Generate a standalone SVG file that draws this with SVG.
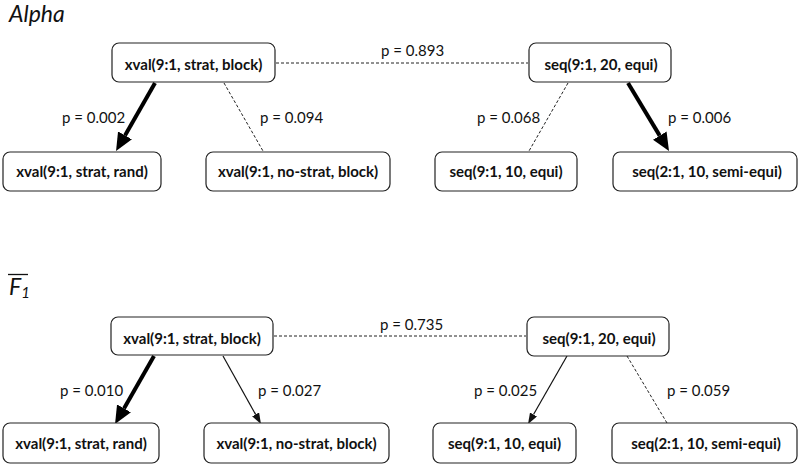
<svg xmlns="http://www.w3.org/2000/svg" width="800" height="467" viewBox="0 0 800 467">
<style>
.box{fill:#fff;stroke:#222;stroke-width:1.2}
.nt{font-family:Lato,"Liberation Sans",Arial,sans-serif;font-weight:bold;font-size:15px;fill:#111;text-anchor:middle}
.pl{font-family:Lato,"Liberation Sans",Arial,sans-serif;font-size:15px;fill:#111}
.ttl{font-family:Lato,"Liberation Sans",Arial,sans-serif;font-style:italic;font-size:23px;fill:#111}
.dash{fill:none;stroke:#222;stroke-width:1;stroke-dasharray:3,2}
.thin{fill:none;stroke:#111;stroke-width:1.2}
.thick{fill:none;stroke:#000;stroke-width:4}
</style>
<defs>
<marker id="ahThick" markerUnits="userSpaceOnUse" markerWidth="18" markerHeight="16" refX="0" refY="8" orient="auto">
<path d="M0,0 L18,8 L0,16 z" fill="#000"/>
</marker>
<marker id="ahThin" markerUnits="userSpaceOnUse" markerWidth="11" markerHeight="8" refX="0" refY="4" orient="auto">
<path d="M0,0 L11,4 L0,8 z" fill="#111"/>
</marker>
</defs>
<rect width="800" height="467" fill="#fff"/>
<text class="ttl" x="9" y="22">Alpha</text>
<g id="f1title">
<line x1="8" y1="274.5" x2="28" y2="274.5" stroke="#111" stroke-width="1.3"/>
<text class="ttl" x="9" y="295">F<tspan font-size="15px" dy="3">1</tspan></text>
</g>
<g id="connectors">
<line class="dash" x1="276" y1="63" x2="528" y2="63"/>
<line class="thick" x1="155" y1="83" x2="125" y2="135.4" marker-end="url(#ahThick)"/>
<line class="dash" x1="224" y1="83" x2="263" y2="151"/>
<line class="dash" x1="568" y1="83" x2="529" y2="151"/>
<line class="thick" x1="628" y1="83" x2="659.7" y2="135.6" marker-end="url(#ahThick)"/>
<line class="dash" x1="274" y1="336" x2="526" y2="336"/>
<line class="thick" x1="154" y1="356" x2="124" y2="408.4" marker-end="url(#ahThick)"/>
<line class="thin" x1="223" y1="356" x2="255.6" y2="414.4" marker-end="url(#ahThin)"/>
<line class="thin" x1="567" y1="356" x2="533.5" y2="414.5" marker-end="url(#ahThin)"/>
<line class="dash" x1="627" y1="356" x2="667" y2="423"/>
<text class="pl" x="381" y="56">p = 0.893</text>
<text class="pl" x="62" y="123">p = 0.002</text>
<text class="pl" x="260" y="123">p = 0.094</text>
<text class="pl" x="477" y="123">p = 0.068</text>
<text class="pl" x="668" y="123">p = 0.006</text>
<text class="pl" x="380" y="330">p = 0.735</text>
<text class="pl" x="60" y="396">p = 0.010</text>
<text class="pl" x="258" y="396">p = 0.027</text>
<text class="pl" x="474" y="396">p = 0.025</text>
<text class="pl" x="667" y="396">p = 0.059</text>
</g>
<g id="a_xval_sb"><rect class="box" x="112" y="43" width="163" height="39" rx="7"/><text class="nt" x="193.5" y="70">xval(9:1, strat, block)</text></g>
<g id="a_seq_20"><rect class="box" x="529" y="43" width="142" height="39" rx="7"/><text class="nt" x="601" y="70">seq(9:1, 20, equi)</text></g>
<g id="a_xval_sr"><rect class="box" x="3" y="152" width="158" height="39" rx="7"/><text class="nt" x="82" y="177">xval(9:1, strat, rand)</text></g>
<g id="a_xval_nsb"><rect class="box" x="206" y="152" width="184" height="39" rx="7"/><text class="nt" x="298" y="177">xval(9:1, no-strat, block)</text></g>
<g id="a_seq_10"><rect class="box" x="435" y="152" width="142" height="39" rx="7"/><text class="nt" x="506" y="177">seq(9:1, 10, equi)</text></g>
<g id="a_seq_semi"><rect class="box" x="613" y="152" width="184" height="39" rx="7"/><text class="nt" x="707" y="177">seq(2:1, 10, semi-equi)</text></g>
<g id="f_xval_sb"><rect class="box" x="111" y="317" width="162" height="38" rx="7"/><text class="nt" x="192" y="344">xval(9:1, strat, block)</text></g>
<g id="f_seq_20"><rect class="box" x="527" y="317" width="142" height="39" rx="7"/><text class="nt" x="599" y="344">seq(9:1, 20, equi)</text></g>
<g id="f_xval_sr"><rect class="box" x="3" y="423" width="156" height="40" rx="7"/><text class="nt" x="81" y="449">xval(9:1, strat, rand)</text></g>
<g id="f_xval_nsb"><rect class="box" x="204" y="423" width="185" height="40" rx="7"/><text class="nt" x="296.5" y="449">xval(9:1, no-strat, block)</text></g>
<g id="f_seq_10"><rect class="box" x="433" y="423" width="143" height="40" rx="7"/><text class="nt" x="504.5" y="449">seq(9:1, 10, equi)</text></g>
<g id="f_seq_semi"><rect class="box" x="612" y="423" width="185" height="40" rx="7"/><text class="nt" x="706" y="449">seq(2:1, 10, semi-equi)</text></g>
</svg>
